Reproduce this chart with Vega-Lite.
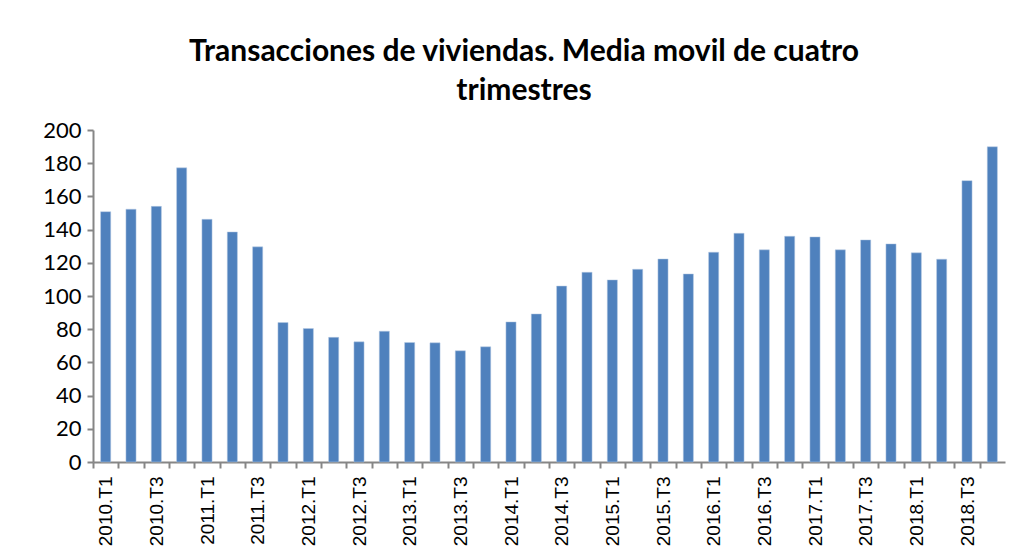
{
  "$schema": "https://vega.github.io/schema/vega-lite/v6.json",
  "width": 912,
  "height": 332,
  "autosize": {"type": "none"},
  "padding": {"left": 93, "top": 130, "right": 20, "bottom": 98},
  "background": "white",
  "title": {
    "text": ["Transacciones de viviendas. Media movil de cuatro", "trimestres"],
    "font": "Lato",
    "fontSize": 30,
    "fontWeight": "bold",
    "color": "#000000",
    "lineHeight": 39,
    "anchor": "middle",
    "dx": -25,
    "offset": 13
  },
  "data": {
    "values": [
      {"q": "2010.T1", "v": 150.8},
      {"q": "2010.T2", "v": 152.3},
      {"q": "2010.T3", "v": 154.0},
      {"q": "2010.T4", "v": 177.2},
      {"q": "2011.T1", "v": 146.2},
      {"q": "2011.T2", "v": 138.6},
      {"q": "2011.T3", "v": 129.6},
      {"q": "2011.T4", "v": 84.0},
      {"q": "2012.T1", "v": 80.4},
      {"q": "2012.T2", "v": 75.1},
      {"q": "2012.T3", "v": 72.4},
      {"q": "2012.T4", "v": 78.8},
      {"q": "2013.T1", "v": 72.0},
      {"q": "2013.T2", "v": 71.8},
      {"q": "2013.T3", "v": 67.0},
      {"q": "2013.T4", "v": 69.4},
      {"q": "2014.T1", "v": 84.4},
      {"q": "2014.T2", "v": 89.2},
      {"q": "2014.T3", "v": 106.0},
      {"q": "2014.T4", "v": 114.3},
      {"q": "2015.T1", "v": 109.7},
      {"q": "2015.T2", "v": 116.1},
      {"q": "2015.T3", "v": 122.3},
      {"q": "2015.T4", "v": 113.3},
      {"q": "2016.T1", "v": 126.4},
      {"q": "2016.T2", "v": 137.8},
      {"q": "2016.T3", "v": 127.8},
      {"q": "2016.T4", "v": 136.0},
      {"q": "2017.T1", "v": 135.6},
      {"q": "2017.T2", "v": 127.8},
      {"q": "2017.T3", "v": 133.8},
      {"q": "2017.T4", "v": 131.4},
      {"q": "2018.T1", "v": 126.0},
      {"q": "2018.T2", "v": 122.2},
      {"q": "2018.T3", "v": 169.5},
      {"q": "2018.T4", "v": 189.9}
    ]
  },
  "mark": {"type": "bar", "color": "#4F81BD", "stroke": "#B9CDE5", "strokeWidth": 0.5},
  "encoding": {
    "x": {
      "field": "q",
      "type": "nominal",
      "sort": null,
      "title": null,
      "scale": {"paddingInner": 0.6, "paddingOuter": 0.3},
      "axis": {
        "bandPosition": 0,
        "tickOffset": -7.6,
        "labelOffset": 7.6,
        "labelAngle": -90,
        "labelAlign": "right",
        "labelBaseline": "middle",
        "labelFont": "Liberation Sans",
        "labelFontSize": 19,
        "labelColor": "#000000",
        "labelPadding": 8,
        "labelExpr": "(indexof(datum.value, 'T1') >= 0 || indexof(datum.value, 'T3') >= 0) ? datum.value : ''",
        "labelOverlap": false,
        "domainColor": "#868686",
        "domainWidth": 2,
        "tickColor": "#868686",
        "tickWidth": 2,
        "tickSize": 6,
        "grid": false
      }
    },
    "y": {
      "field": "v",
      "type": "quantitative",
      "title": null,
      "scale": {"domain": [0, 200], "nice": false},
      "axis": {
        "values": [0, 20, 40, 60, 80, 100, 120, 140, 160, 180, 200],
        "labelFont": "Lato",
        "labelFontSize": 22,
        "labelColor": "#000000",
        "labelPadding": 6,
        "domainColor": "#868686",
        "domainWidth": 2,
        "tickColor": "#868686",
        "tickWidth": 2,
        "tickSize": 6,
        "grid": false
      }
    }
  },
  "config": {"view": {"stroke": null}}
}
